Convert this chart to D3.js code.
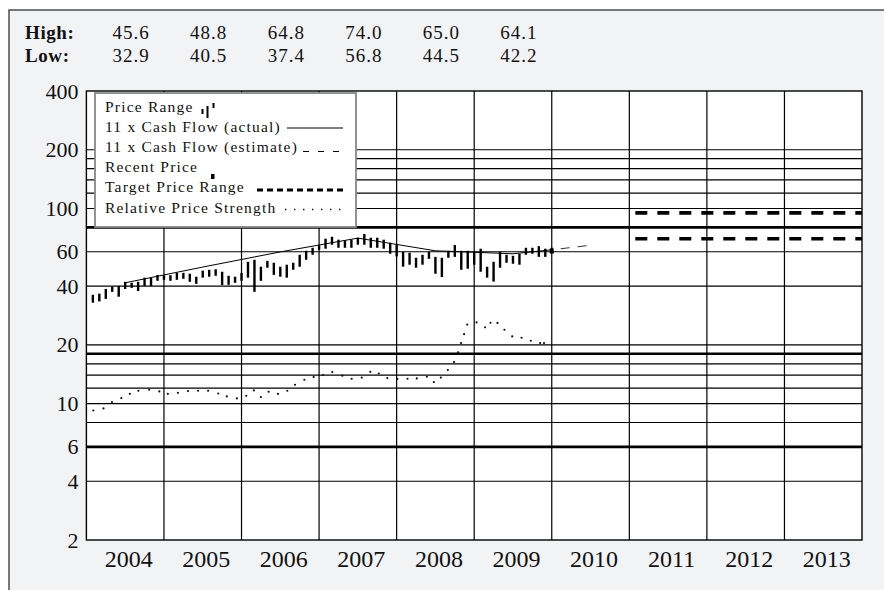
<!DOCTYPE html>
<html>
<head>
<meta charset="utf-8">
<script src="https://cdn.jsdelivr.net/npm/d3@7"></script>
<style>
body { margin: 0; background: #fff; }
svg { display: block; font-family: "Liberation Serif", "Times New Roman", serif; }
</style>
</head>
<body>
<div id="chart"></div>
<script>
// years shown along the bottom
var years = [2004, 2005, 2006, 2007, 2008, 2009, 2010, 2011, 2012, 2013];

// yearly high / low row at the top
var summaryYears = [2004, 2005, 2006, 2007, 2008, 2009];
var yearHigh = [45.6, 48.8, 64.8, 74.0, 65.0, 64.1];
var yearLow = [32.9, 40.5, 37.4, 56.8, 44.5, 42.2];

// monthly price range, Jan 2004 .. Dec 2009
var monthHigh = [
    36.1, 36.6, 38.7, 39.7, 40.1, 42.1, 41.6, 42.1, 44.2, 44.2, 45.6, 45.4,
    45.5, 46.8, 46.8, 46.3, 44.7, 48.0, 48.5, 48.8, 47.4, 45.2, 44.7, 46.8,
    53.3, 54.6, 50.3, 53.9, 52.7, 50.3, 51.5, 52.7, 57.9, 60.7, 62.9, 64.8,
    70.0, 71.6, 69.2, 68.4, 69.2, 70.8, 74.0, 70.8, 70.8, 69.2, 66.8, 65.2,
    60.0, 59.3, 55.9, 57.9, 60.0, 56.5, 55.9, 60.7, 65.0, 60.7, 60.7, 60.0,
    62.2, 50.3, 53.3, 60.0, 57.9, 57.2, 58.6, 62.9, 62.9, 64.1, 62.2, 62.9
];
var monthLow = [
    32.9, 33.4, 34.4, 37.4, 35.3, 38.7, 39.2, 37.8, 40.1, 40.1, 42.6, 43.1,
    42.6, 43.1, 43.6, 42.1, 41.1, 44.2, 44.7, 45.2, 40.5, 40.6, 41.6, 42.6,
    44.2, 37.4, 42.6, 49.7, 45.7, 44.7, 44.2, 48.5, 50.3, 54.6, 57.9, 61.4,
    62.2, 65.2, 62.9, 62.9, 62.9, 65.2, 65.2, 62.9, 62.9, 62.2, 58.6, 56.8,
    50.3, 51.5, 49.7, 51.5, 55.2, 46.3, 44.5, 55.9, 56.5, 48.5, 49.1, 51.5,
    47.4, 44.2, 42.2, 49.7, 52.7, 52.1, 51.5, 57.9, 58.6, 56.5, 56.5, 60.0
];

// 11 x cash flow, actual and estimate
var cashFlowT = [2004.5, 2005.5, 2006.5, 2007.5, 2008.5, 2009.5, 2010.0];
var cashFlowV = [41.6, 50.1, 59.9, 70.5, 60.7, 58.6, 61.4];
var cashFlowEstT = [2010.0, 2010.5];
var cashFlowEstV = [61.4, 64.8];

// recent price
var recentT = 2010.0;
var recentPrice = 60.5;

// target price range
var targetYears = [2011, 2014];
var targetRange = [70, 95];

// relative price strength
var rpsT = [
    2004.09, 2004.22, 2004.33, 2004.45, 2004.56, 2004.67, 2004.81, 2004.94,
    2005.05, 2005.18, 2005.31, 2005.44, 2005.57, 2005.70, 2005.81, 2005.94,
    2006.06, 2006.16, 2006.25, 2006.35, 2006.47, 2006.59, 2006.69, 2006.81, 2006.93,
    2007.05, 2007.17, 2007.30, 2007.42, 2007.55, 2007.66, 2007.77, 2007.88,
    2008.01, 2008.14, 2008.26, 2008.39, 2008.48, 2008.57, 2008.66, 2008.74, 2008.79, 2008.83, 2008.87, 2008.91,
    2009.03, 2009.14, 2009.21, 2009.30, 2009.39, 2009.49, 2009.61, 2009.73, 2009.85, 2009.90
];
var rpsV = [
    9.22, 9.45, 10.18, 10.68, 11.23, 11.64, 11.78, 11.55,
    11.23, 11.36, 11.6, 11.64, 11.64, 11.27, 10.88, 10.63,
    10.97, 11.69, 10.80, 11.5, 11.23, 11.64, 12.49, 13.25, 13.68,
    14.0, 14.5, 13.9, 13.41, 13.6, 14.55, 14.27, 13.52,
    13.36, 13.41, 13.46, 13.73, 12.9, 13.6, 14.86, 16.33, 18.29, 20.43, 22.7, 25.4,
    26.05, 24.6, 25.97, 25.9, 23.9, 22.1, 21.75, 21.0, 20.43, 20.43
];

// price scale grid and labels
var gridThin = [200, 180, 160, 140, 120, 100, 60, 40, 20, 16, 14, 12, 10, 8, 4];
var gridThick = [80, 18, 6];
var yLabels = [400, 200, 100, 60, 40, 20, 10, 6, 4, 2];

var legendItems = ["Price Range", "11 x Cash Flow (actual)", "11 x Cash Flow (estimate)",
    "Recent Price", "Target Price Range", "Relative Price Strength"];

var width = 884, height = 590;
var plot = {left: 86.4, right: 862, top: 91, bottom: 540};

var svg = d3.select("#chart").append("svg")
    .attr("width", width)
    .attr("height", height);

// grey frame round everything
svg.append("rect")
    .attr("x", 9).attr("y", 10)
    .attr("width", 900).attr("height", 600)
    .attr("fill", "#f2f3f5")
    .attr("stroke", "#333")
    .attr("stroke-width", 1.3);

var x = d3.scaleLinear().domain([2004, 2014]).range([plot.left, plot.right]);
var y = d3.scaleLog().domain([2, 400]).range([plot.bottom, plot.top]);

// white plot area
svg.append("rect")
    .attr("x", plot.left).attr("y", plot.top)
    .attr("width", plot.right - plot.left).attr("height", plot.bottom - plot.top)
    .attr("fill", "#fff");

var grid = svg.append("g");

// horizontal grid lines
grid.selectAll(".hthin")
    .data(gridThin)
    .enter().append("line")
    .attr("x1", plot.left).attr("x2", plot.right)
    .attr("y1", function(d) { return y(d); })
    .attr("y2", function(d) { return y(d); })
    .attr("stroke", "#000").attr("stroke-width", 1.2);

grid.selectAll(".hthick")
    .data(gridThick)
    .enter().append("line")
    .attr("x1", plot.left).attr("x2", plot.right)
    .attr("y1", function(d) { return y(d); })
    .attr("y2", function(d) { return y(d); })
    .attr("stroke", "#000").attr("stroke-width", 2.6);

// vertical year lines
grid.selectAll(".v")
    .data(years.slice(1))
    .enter().append("line")
    .attr("x1", function(d) { return x(d); })
    .attr("x2", function(d) { return x(d); })
    .attr("y1", plot.top).attr("y2", plot.bottom)
    .attr("stroke", "#000").attr("stroke-width", 1.2);

// plot border
svg.append("rect")
    .attr("x", plot.left).attr("y", plot.top)
    .attr("width", plot.right - plot.left).attr("height", plot.bottom - plot.top)
    .attr("fill", "none")
    .attr("stroke", "#000").attr("stroke-width", 1.4);

// y axis labels
var yAxis = svg.append("g")
    .attr("transform", "translate(" + (plot.left - 8) + ",0)")
    .call(d3.axisLeft(y).tickValues(yLabels).tickSize(0).tickPadding(0).tickFormat(d3.format("d")));
yAxis.select(".domain").remove();
yAxis.attr("font-family", null);
yAxis.selectAll("text")
    .attr("font-size", 22)
    .attr("fill", "#111");

// x axis labels centred in each year column
var xAxis = svg.append("g")
    .attr("transform", "translate(3," + plot.bottom + ")")
    .call(d3.axisBottom(x)
        .tickValues(years.map(function(d) { return d + 0.5; }))
        .tickSize(0).tickPadding(10)
        .tickFormat(function(d) { return Math.floor(d); }));
xAxis.select(".domain").remove();
xAxis.attr("font-family", null);
xAxis.selectAll("text")
    .attr("font-size", 24)
    .attr("fill", "#111");

// high / low header
var header = svg.append("g").attr("font-size", 19).attr("fill", "#111");
header.append("text").attr("x", 25).attr("y", 39).attr("font-weight", "bold")
    .attr("letter-spacing", 0.6).text("High:");
header.append("text").attr("x", 25).attr("y", 61.5).attr("font-weight", "bold")
    .attr("letter-spacing", 0.6).text("Low:");
header.selectAll(".hi")
    .data(summaryYears)
    .enter().append("text")
    .attr("x", function(d) { return x(d + 0.5) + 6; })
    .attr("y", 39)
    .attr("text-anchor", "middle")
    .attr("letter-spacing", 1)
    .text(function(d, i) { return yearHigh[i].toFixed(1); });
header.selectAll(".lo")
    .data(summaryYears)
    .enter().append("text")
    .attr("x", function(d) { return x(d + 0.5) + 6; })
    .attr("y", 61.5)
    .attr("text-anchor", "middle")
    .attr("letter-spacing", 1)
    .text(function(d, i) { return yearLow[i].toFixed(1); });

// target price range
svg.append("g").selectAll("line")
    .data(targetRange)
    .enter().append("line")
    .attr("x1", x(targetYears[0])).attr("x2", x(targetYears[1]))
    .attr("y1", function(d) { return y(d); })
    .attr("y2", function(d) { return y(d); })
    .attr("stroke", "#000")
    .attr("stroke-width", 3.6)
    .attr("stroke-dasharray", "12,10")
    .attr("stroke-dashoffset", 16);

// monthly price bars
svg.append("g").selectAll("rect")
    .data(monthHigh)
    .enter().append("rect")
    .attr("x", function(d, i) { return x(2004 + (i + 1) / 12) - 1.2; })
    .attr("y", function(d) { return y(d); })
    .attr("width", 2.4)
    .attr("height", function(d, i) { return y(monthLow[i]) - y(d); })
    .attr("fill", "#000");

// cash flow lines
var line = d3.line()
    .x(function(d) { return x(d[0]); })
    .y(function(d) { return y(d[1]); });

svg.append("path")
    .datum(d3.zip(cashFlowT, cashFlowV))
    .attr("d", line)
    .attr("fill", "none")
    .attr("stroke", "#000")
    .attr("stroke-width", 1);

svg.append("path")
    .datum(d3.zip(cashFlowEstT, cashFlowEstV))
    .attr("d", line)
    .attr("fill", "none")
    .attr("stroke", "#333")
    .attr("stroke-width", 1)
    .attr("stroke-dasharray", "9,8")
    .attr("stroke-dashoffset", -9);

// recent price
svg.append("rect")
    .attr("x", x(recentT) - 2)
    .attr("y", y(recentPrice) - 2.5)
    .attr("width", 4)
    .attr("height", 5)
    .attr("fill", "#000");

// relative price strength dots
svg.append("g").selectAll("circle")
    .data(rpsV)
    .enter().append("circle")
    .attr("cx", function(d, i) { return x(rpsT[i]); })
    .attr("cy", function(d) { return y(d); })
    .attr("r", 1.1)
    .attr("fill", "#111");

// legend
var legend = svg.append("g").attr("transform", "translate(95,93)");
legend.append("rect")
    .attr("width", 261).attr("height", 134)
    .attr("fill", "#fff")
    .attr("stroke", "#888").attr("stroke-width", 1.8);

legend.selectAll("text")
    .data(legendItems)
    .enter().append("text")
    .attr("x", 10)
    .attr("y", function(d, i) { return 18.5 + i * 20.2; })
    .attr("font-size", 15.5)
    .attr("letter-spacing", 1.2)
    .attr("fill", "#111")
    .text(function(d) { return d; });

// legend symbols
var sym = legend.append("g");
sym.append("rect").attr("x", 106.5).attr("y", 16).attr("width", 2).attr("height", 5).attr("fill", "#000");
sym.append("rect").attr("x", 111.5).attr("y", 13).attr("width", 2).attr("height", 12).attr("fill", "#000");
sym.append("rect").attr("x", 117.5).attr("y", 10).attr("width", 2).attr("height", 5).attr("fill", "#000");
sym.append("line").attr("x1", 192).attr("x2", 248).attr("y1", 35).attr("y2", 35)
    .attr("stroke", "#000").attr("stroke-width", 1);
sym.append("line").attr("x1", 208).attr("x2", 248).attr("y1", 58.5).attr("y2", 58.5)
    .attr("stroke", "#000").attr("stroke-width", 1).attr("stroke-dasharray", "6,9");
sym.append("rect").attr("x", 116).attr("y", 81).attr("width", 3.5).attr("height", 5).attr("fill", "#000");
sym.append("line").attr("x1", 162).attr("x2", 248).attr("y1", 97).attr("y2", 97)
    .attr("stroke", "#000").attr("stroke-width", 2.8).attr("stroke-dasharray", "6,4");
sym.append("line").attr("x1", 190).attr("x2", 248).attr("y1", 116.5).attr("y2", 116.5)
    .attr("stroke", "#111").attr("stroke-width", 1.4).attr("stroke-dasharray", "1.4,7.6");
</script>
</body>
</html>
